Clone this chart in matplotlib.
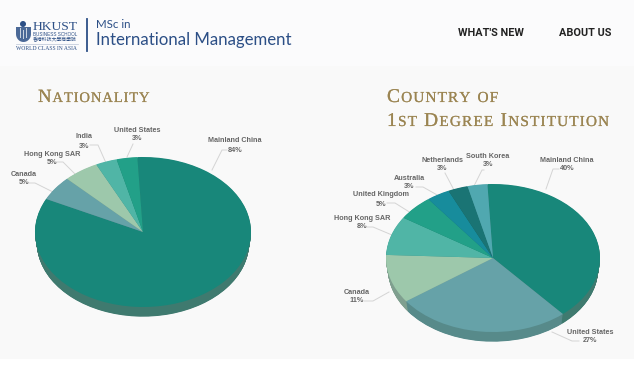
import numpy as np
import matplotlib
matplotlib.use('Agg')
import matplotlib.pyplot as plt
from matplotlib.patches import Polygon, Rectangle
from matplotlib import patheffects as pe

W, H = 634, 383

nat_labels = ['Mainland China', 'Canada', 'Hong Kong SAR', 'India', 'United States']
nat_pct = [84, 5, 5, 3, 3]
nat_values = [83.1, 5.3, 5.3, 3.2, 3.1]
nat_colors = ['#18877a', '#66a2a8', '#9dc8ab', '#50b5a6', '#22a088']
nat_sides = ['#3f7a6f', '#4f7f84', '#7c9f88', '#408f84', '#1b806d']

deg_labels = ['Mainland China', 'United States', 'Canada', 'Hong Kong SAR',
              'United Kingdom', 'Australia', 'Netherlands', 'South Korea']
deg_pct = [40, 27, 11, 8, 5, 3, 3, 3]
deg_values = [39.5, 26.4, 10.6, 8.5, 5.5, 3.5, 3.0, 3.0]
deg_colors = ['#18877a', '#66a2a8', '#9dc8ab', '#50b5a6', '#22a088', '#178c9c', '#1a7474', '#50a8b0']
deg_sides = ['#3f7a6f', '#578a8a', '#7f9f8f', '#408f84', '#1b806d', '#12707c', '#155d5d', '#40868c']

# label anchors and leader lines, pixels from top left
nat_text = [(235, 141), (24, 174), (52, 154), (84, 137), (137, 130)]
nat_lines = [[(212, 170), (222, 150), (227, 150)],
             [(53, 192), (35, 183), (29, 183)],
             [(77, 176), (63, 162), (57, 162)],
             [(106, 163), (98, 145), (90, 145)],
             [(127, 157), (133, 144)]]
deg_text = [(567, 160), (590, 332), (357, 292), (362, 218),
            (381, 195), (409, 178), (442, 160), (488, 156)]
deg_lines = [[(546, 189), (553, 169), (559, 169)],
             [(552, 332), (572, 341), (579, 341)],
             [(389, 292), (373, 301), (364, 301)],
             [(392, 235), (373, 227), (367, 227)],
             [(411, 213), (395, 203), (387, 203)],
             [(439, 196), (423, 187), (416, 187)],
             [(454, 190), (445, 173)],
             [(474, 186), (482, 170), (484, 170)]]

fig = plt.figure(figsize=(W / 100, H / 100), dpi=100, facecolor='white')

# everything that is not a pie goes on this pixel axes
bg = fig.add_axes([0, 0, 1, 1])
bg.set_xlim(0, W)
bg.set_ylim(H, 0)
bg.axis('off')
bg.add_patch(Rectangle((0, 0), W, 66, color='#fbfbfc', lw=0))
bg.add_patch(Rectangle((0, 66), W, 293, color='#f9f9f9', lw=0))


def draw_pie(cx, cy, rx, ry, depth, values, colors, sides, start):
    ax = fig.add_axes([(cx - rx) / W, 1 - (cy + ry) / H, 2 * rx / W, 2 * ry / H])
    # side wall: same pie stacked downwards, a little narrower at the bottom
    for d in np.arange(depth, 0, -0.5):
        ax.pie(values, colors=sides, startangle=start, counterclock=False,
               center=(0, -d / ry), radius=1 - 0.018 * d / depth,
               wedgeprops={'clip_on': False, 'lw': 0})
    ax.pie(values, colors=colors, startangle=start, counterclock=False,
           radius=1, wedgeprops={'clip_on': False, 'lw': 0})
    ax.set_aspect('auto')
    ax.set_xlim(-1, 1)
    ax.set_ylim(-1, 1)
    ax.patch.set_alpha(0)


def draw_labels(names, pct, text_pos, lines):
    for name, val, (x, y), line in zip(names, pct, text_pos, lines):
        bg.text(x, y, name, ha='center', va='center', fontsize=5.2, color='#666666',
                family='Liberation Sans', weight='bold')
        bg.text(x, y + 9, f'{val}%', ha='center', va='center', fontsize=5.2, color='#666666',
                family='Liberation Sans', weight='bold')
        xs, ys = zip(*line)
        bg.plot(xs, ys, color='#d4d4d4', lw=0.7)


def small_caps(x, y, s, big, small, gap, color='#9b8552'):
    # Trajan style caps: lower case letters come out as smaller capitals
    r = fig.canvas.get_renderer()
    for ch in s:
        if ch == ' ':
            x += 6
            continue
        size = small if ch.islower() else big
        t = bg.text(x, y, ch.upper(), fontsize=size, color=color, family='Liberation Serif',
                    va='baseline', ha='left')
        t.set_path_effects([pe.withStroke(linewidth=0.12, foreground=color)])
        x += t.get_window_extent(r).width + gap


draw_pie(143, 232, 108, 75, 11, nat_values, nat_colors, nat_sides, 93)
draw_pie(493, 258, 107, 74, 11, deg_values, deg_colors, deg_sides, 93)
draw_labels(nat_labels, nat_pct, nat_text, nat_lines)
draw_labels(deg_labels, deg_pct, deg_text, deg_lines)

small_caps(38, 102, 'Nationality', 13.5, 10.5, 0.85)
small_caps(387, 102, 'Country of', 14, 11, 1.15)
small_caps(387, 126, '1st Degree Institution', 14, 11, 1.15)

# header
blue = '#2c4f86'
shield_t = np.linspace(0, np.pi, 20)
shield = [(16, 27), (31, 27)] + [(23.5 + 7.5 * np.cos(a), 34 + 8 * np.sin(a)) for a in shield_t]
bg.add_patch(Polygon(shield, color=blue, alpha=0.85, lw=0))
bg.add_patch(Rectangle((19.5, 28), 1.3, 10, color='white', alpha=0.7, lw=0))
bg.add_patch(Rectangle((26, 28), 1.3, 10, color='white', alpha=0.7, lw=0))
bg.add_patch(Rectangle((22.8, 30), 1.3, 9, color='white', alpha=0.7, lw=0))
bg.add_patch(plt.Circle((23, 24), 3, color=blue, lw=0))
bg.text(33, 30, 'HKUST', fontsize=9.7, color=blue, family='Liberation Serif', va='baseline')
bg.text(33, 34, 'BUSINESS SCHOOL', fontsize=3.35, color=blue, family='Liberation Sans', va='center')
bg.text(33, 39.5, '香港科技大學商學院', fontsize=3.5, color=blue, family='Noto Sans CJK TC', va='center')
bg.plot([16, 78], [43.5, 43.5], color='#b9c4d6', lw=0.5)
bg.text(16, 48.7, 'WORLD CLASS IN ASIA', fontsize=4.1, color=blue, family='Liberation Serif', va='center')
bg.plot([87, 87], [19, 51], color=blue, lw=1.3)
bg.text(96, 24, 'MSc in', fontsize=8.3, color=blue, family='Lato', va='center')
bg.text(96, 40, 'International Management', fontsize=12.1, color=blue, family='Lato', va='center')

bg.text(490.5, 33.5, "WHAT'S NEW", fontsize=7.8, color='#222222', family='Roboto',
        weight='bold', ha='center', va='center')
bg.text(585, 33.5, 'ABOUT US', fontsize=7.8, color='#222222', family='Roboto',
        weight='bold', ha='center', va='center')

fig.savefig('out.png', dpi=100)
